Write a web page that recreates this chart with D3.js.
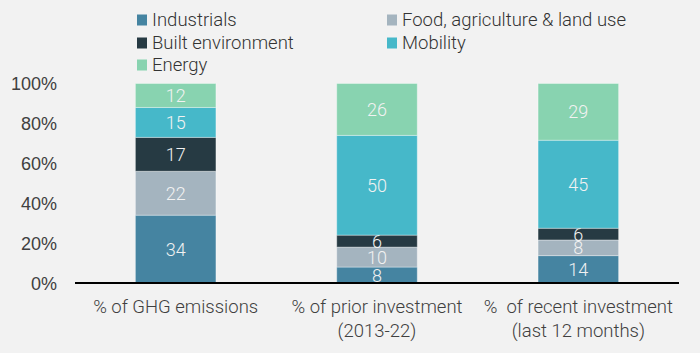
<!DOCTYPE html>
<html>
<head>
<meta charset="utf-8">
<script src="https://cdn.jsdelivr.net/npm/d3@7"></script>
<style>
  html, body { margin: 0; padding: 0; background: #f2f2f2; }
  svg { display: block; font-family: Roboto, "Noto Sans", sans-serif; }
</style>
</head>
<body>
<div id="chart"></div>
<script>
var width = 700;
var height = 353;

// data
var categories = ["% of GHG emissions", "% of prior investment\n(2013-22)", "%  of recent investment\n(last 12 months)"];
var sectors = ["Industrials", "Food, agriculture & land use", "Built environment", "Mobility", "Energy"];
var industrials = [34, 8, 14];
var food = [22, 10, 8];
var built = [17, 6, 6];
var mobility = [15, 50, 45];
var energy = [12, 26, 29];
var yTicks = [0, 0.2, 0.4, 0.6, 0.8, 1];

var colors = ["#4584a1", "#a4b4bf", "#263a43", "#46b8c9", "#88d3b0"];

var rows = categories.map(function (c, i) {
    return {
        cat: c,
        "Industrials": industrials[i],
        "Food, agriculture & land use": food[i],
        "Built environment": built[i],
        "Mobility": mobility[i],
        "Energy": energy[i]
    };
});

var margin = {top: 83.5, right: 21, bottom: 70, left: 75};

var svg = d3.select("#chart").append("svg")
    .attr("width", width)
    .attr("height", height);

var x = d3.scaleBand()
    .domain(categories)
    .range([margin.left, width - margin.right])
    .paddingInner(0.6)
    .paddingOuter(0.3);

var y = d3.scaleLinear()
    .domain([0, 1])
    .range([height - margin.bottom, margin.top]);

var color = d3.scaleOrdinal().domain(sectors).range(colors);

// the third bar's rounded labels add up to 102, so normalise each bar
var stack = d3.stack()
    .keys(sectors)
    .offset(d3.stackOffsetExpand);
var series = stack(rows);

// y axis labels, no line
var yAxis = d3.axisLeft(y)
    .tickValues(yTicks)
    .tickFormat(d3.format(".0%"))
    .tickSize(0)
    .tickPadding(0);

svg.append("g")
    .attr("transform", "translate(57,0)")
    .call(yAxis)
    .call(function (g) { g.select(".domain").remove(); })
    .selectAll("text")
    .style("font-size", "18px")
    .style("font-weight", 300)
    .attr("fill", "#404040")
    .attr("dy", "0.35em");

// bars
var layer = svg.append("g").selectAll("g")
    .data(series)
    .join("g")
    .attr("fill", function (d) { return color(d.key); });

layer.selectAll("rect")
    .data(function (d) { return d; })
    .join("rect")
    .attr("x", function (d) { return x(d.data.cat); })
    .attr("width", x.bandwidth())
    .attr("y", function (d) { return y(d[1]); })
    .attr("height", function (d) { return y(d[0]) - y(d[1]); })
    .attr("stroke", "#ffffff")
    .attr("stroke-opacity", 0.35)
    .attr("stroke-width", 1);

// value labels
layer.selectAll("text")
    .data(function (d) {
        return d.map(function (v) { return {v: v, key: d.key}; });
    })
    .join("text")
    .attr("x", function (d) { return x(d.v.data.cat) + x.bandwidth() / 2; })
    .attr("y", function (d) { return (y(d.v[0]) + y(d.v[1])) / 2; })
    .attr("dy", "0.36em")
    .attr("text-anchor", "middle")
    .attr("fill", "#f2f2f2")
    .style("font-size", "18px")
    .style("font-weight", 300)
    .text(function (d) { return d.v.data[d.key]; });

// baseline
svg.append("line")
    .attr("x1", margin.left)
    .attr("x2", width - margin.right)
    .attr("y1", y(0))
    .attr("y2", y(0))
    .attr("stroke", "#000")
    .attr("stroke-width", 2);

// category labels
var catLabels = svg.append("g").selectAll("text")
    .data(categories)
    .join("text")
    .attr("x", function (d) { return x(d) + x.bandwidth() / 2; })
    .attr("y", 313)
    .attr("text-anchor", "middle")
    .attr("fill", "#404040")
    .style("white-space", "pre")
    .style("font-size", "18.5px")
    .style("font-weight", 300);

catLabels.selectAll("tspan")
    .data(function (d) { return d.split("\n"); })
    .join("tspan")
    .attr("x", function () { var p = this.parentNode.__data__; return x(p) + x.bandwidth() / 2; })
    .attr("dy", function (d, i) { return i === 0 ? 0 : 24; })
    .text(function (d) { return d; });

// legend
var legendPos = [
    {x: 137, y: 20}, {x: 387, y: 20},
    {x: 137, y: 43}, {x: 387, y: 43},
    {x: 137, y: 65}
];

var legend = svg.append("g").selectAll("g")
    .data(sectors)
    .join("g")
    .attr("transform", function (d, i) {
        return "translate(" + legendPos[i].x + "," + legendPos[i].y + ")";
    });

legend.append("rect")
    .attr("x", 0)
    .attr("y", -5.5)
    .attr("width", 10)
    .attr("height", 11)
    .attr("fill", function (d) { return color(d); });

legend.append("text")
    .attr("x", 15)
    .attr("dy", "0.35em")
    .attr("fill", "#333333")
    .style("font-size", "18.5px")
    .style("font-weight", 300)
    .text(function (d) { return d; });
</script>
</body>
</html>
